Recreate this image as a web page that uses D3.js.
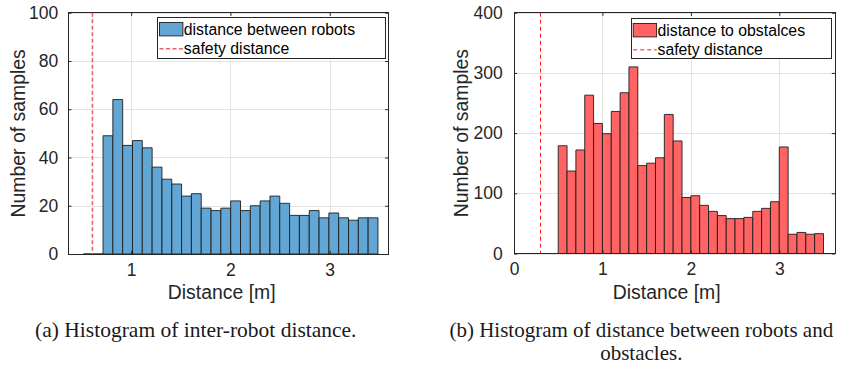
<!DOCTYPE html>
<html>
<head>
<meta charset="utf-8">
<script src="https://cdn.jsdelivr.net/npm/d3@7"></script>
<style>
  body { margin: 0; background: #fff; }
  svg { display: block; }
  .ax text { font-family: "Liberation Sans", Arial, Helvetica, sans-serif; }
  .cap { font-family: "Liberation Serif", "Times New Roman", serif; }
</style>
</head>
<body>
<svg id="fig" width="841" height="372"></svg>
<script>
// Histogram (a): inter-robot distance
const robotBinStart = 0.519;
const robotBinWidth = 0.0989;
const robotCounts = [0, 0, 49, 64, 45, 47, 44, 36, 31, 29, 24, 25, 19, 18, 19, 22,
                     18, 20, 22, 24, 21, 16, 16, 18, 15, 17, 15, 14, 15, 15];
const robotSafety = 0.61;
const robotXTicks = [1, 2, 3];
const robotYTicks = [0, 20, 40, 60, 80, 100];
const robotXDomain = [0.367, 3.59];
const robotYDomain = [0, 100];

// Histogram (b): robot-to-obstacle distance
const obstacleBinStart = 0.5;
const obstacleBinWidth = 0.1;
const obstacleCounts = [179, 137, 172, 263, 216, 199, 236, 267, 310, 146, 150, 159, 231, 187, 93,
                        96, 80, 70, 63, 58, 58, 60, 70, 75, 86, 177, 32, 35, 32, 33];
const obstacleSafety = 0.3;
const obstacleXTicks = [0, 1, 2, 3];
const obstacleYTicks = [0, 100, 200, 300, 400];
const obstacleXDomain = [0, 3.63];
const obstacleYDomain = [0, 400];

const svg = d3.select("#fig");
svg.append("rect").attr("width", 841).attr("height", 372).attr("fill", "#fff");

const AXIS_COLOR = "#262626";
const GRID_COLOR = "#e3e3e3";

function drawPanel(p) {
  const g = svg.append("g").attr("class", "ax");
  const x = d3.scaleLinear().domain(p.xDomain).range([p.left, p.right]);
  const y = d3.scaleLinear().domain(p.yDomain).range([p.bottom, p.top]);
  const w = p.right - p.left, h = p.bottom - p.top;

  // grid
  const grid = g.append("g");
  grid.append("g").attr("transform", `translate(0,${p.bottom})`)
    .call(d3.axisBottom(x).tickValues(p.xTicks).tickSize(-h).tickFormat(""))
    .call(s => s.select(".domain").remove())
    .call(s => s.selectAll("line").attr("stroke", GRID_COLOR).attr("shape-rendering", "crispEdges"));
  grid.append("g").attr("transform", `translate(${p.left},0)`)
    .call(d3.axisLeft(y).tickValues(p.yTicks).tickSize(-w).tickFormat(""))
    .call(s => s.select(".domain").remove())
    .call(s => s.selectAll("line").attr("stroke", GRID_COLOR).attr("shape-rendering", "crispEdges"));

  // bars
  const bins = p.counts.map((c, i) => ({
    x0: p.binStart + i * p.binWidth,
    x1: p.binStart + (i + 1) * p.binWidth,
    c
  }));
  g.append("g").selectAll("path").data(bins).join("path")
    .attr("d", d => `M${x(d.x0)},${y(0)}V${y(d.c)}H${x(d.x1)}V${y(0)}Z`)
    .attr("fill", p.fill)
    .attr("stroke", "#1e1e1e")
    .attr("stroke-width", 0.9);

  // safety distance marker
  g.append("line")
    .attr("x1", x(p.safety)).attr("x2", x(p.safety))
    .attr("y1", p.top).attr("y2", p.bottom)
    .attr("stroke", p.safetyColor)
    .attr("stroke-width", p.safetyWidth)
    .attr("stroke-dasharray", p.safetyDash);

  // axes: ticks pointing inward on all four sides
  const styleAxis = s => {
    s.select(".domain").remove();
    s.selectAll("line").attr("stroke", AXIS_COLOR);
    s.selectAll("text").attr("fill", AXIS_COLOR).style("font-size", "17.5px")
      .style("font-family", '"Liberation Sans", Arial, sans-serif');
  };
  const tl = 3.2;
  g.append("g").attr("transform", `translate(0,${p.bottom})`)
    .call(d3.axisBottom(x).tickValues(p.xTicks).tickSize(-tl).tickPadding(9.5).tickFormat(d3.format("d")))
    .call(styleAxis);
  g.append("g").attr("transform", `translate(0,${p.top})`)
    .call(d3.axisTop(x).tickValues(p.xTicks).tickSize(-tl).tickFormat(""))
    .call(styleAxis);
  g.append("g").attr("transform", `translate(${p.left},0)`)
    .call(d3.axisLeft(y).tickValues(p.yTicks).tickSize(-tl).tickPadding(p.yPad).tickFormat(d3.format("d")))
    .call(styleAxis);
  g.append("g").attr("transform", `translate(${p.right},0)`)
    .call(d3.axisRight(y).tickValues(p.yTicks).tickSize(-tl).tickFormat(""))
    .call(styleAxis);

  // box
  g.append("rect")
    .attr("x", p.left).attr("y", p.top).attr("width", w).attr("height", h)
    .attr("fill", "none").attr("stroke", AXIS_COLOR).attr("stroke-width", 1)
    .attr("shape-rendering", "crispEdges");

  // axis labels
  g.append("text")
    .attr("x", p.xLabelX).attr("y", 299)
    .attr("text-anchor", "middle").attr("fill", AXIS_COLOR)
    .style("font-size", "19.4px").text("Distance [m]");
  g.append("text")
    .attr("transform", `translate(${p.yLabelX},${(p.top + p.bottom) / 2}) rotate(-90)`)
    .attr("text-anchor", "middle").attr("fill", AXIS_COLOR)
    .style("font-size", "19.4px").text("Number of samples");

  // legend
  const L = p.legend;
  const lg = g.append("g");
  lg.append("rect").attr("x", L.x).attr("y", L.y).attr("width", L.w).attr("height", L.h)
    .attr("fill", "#fff").attr("stroke", AXIS_COLOR).attr("stroke-width", 1)
    .attr("shape-rendering", "crispEdges");
  lg.append("rect").attr("x", L.x + 2.2).attr("y", L.y + 5.2).attr("width", 23.4).attr("height", 13.4)
    .attr("fill", p.fill).attr("stroke", "#1e1e1e").attr("stroke-width", 0.9);
  lg.append("line").attr("x1", L.x + 2.2).attr("x2", L.x + 25.6)
    .attr("y1", L.y + 31.5).attr("y2", L.y + 31.5)
    .attr("stroke", p.safetyColor).attr("stroke-width", p.safetyWidth)
    .attr("stroke-dasharray", p.safetyDash);
  lg.append("text").attr("x", L.x + 26.5).attr("y", L.y + 17.4)
    .attr("fill", "#000").style("font-size", "15.8px").text(p.seriesName);
  lg.append("text").attr("x", L.x + 26.5).attr("y", L.y + 36.6)
    .attr("fill", "#000").style("font-size", "15.8px").text("safety distance");

  // caption
  const cap = svg.append("g").attr("class", "cap");
  p.caption.forEach((line, i) => {
    cap.append("text").attr("x", p.capX).attr("y", 337 + i * 23)
      .attr("text-anchor", "middle").attr("fill", "#1a1a1a")
      .style("font-size", p.capSize).text(line);
  });
}

drawPanel({
  left: 68.3, right: 388.3, top: 12.7, bottom: 254,
  xDomain: robotXDomain, yDomain: robotYDomain,
  xTicks: robotXTicks, yTicks: robotYTicks,
  counts: robotCounts, binStart: robotBinStart, binWidth: robotBinWidth,
  fill: "#62a6d6",
  safety: robotSafety, safetyColor: "#f0606c", safetyWidth: 1.6, safetyDash: "4 2.5",
  yPad: 10, xLabelX: 221.7, yLabelX: 24.5,
  legend: { x: 157.3, y: 17.3, w: 228.4, h: 41 },
  seriesName: "distance between robots",
  caption: ["(a) Histogram of inter-robot distance."], capX: 195.8, capSize: "21.5px"
});

drawPanel({
  left: 514, right: 835, top: 12.7, bottom: 253.5,
  xDomain: obstacleXDomain, yDomain: obstacleYDomain,
  xTicks: obstacleXTicks, yTicks: obstacleYTicks,
  counts: obstacleCounts, binStart: obstacleBinStart, binWidth: obstacleBinWidth,
  fill: "#ff6363",
  safety: obstacleSafety, safetyColor: "#ff1a1a", safetyWidth: 1, safetyDash: "4 3",
  yPad: 11.3, xLabelX: 666.7, yLabelX: 468,
  legend: { x: 631, y: 18.3, w: 200, h: 40 },
  seriesName: "distance to obstalces",
  caption: ["(b) Histogram of distance between robots and", "obstacles."], capX: 641.3, capSize: "21px"
});
</script>
</body>
</html>
